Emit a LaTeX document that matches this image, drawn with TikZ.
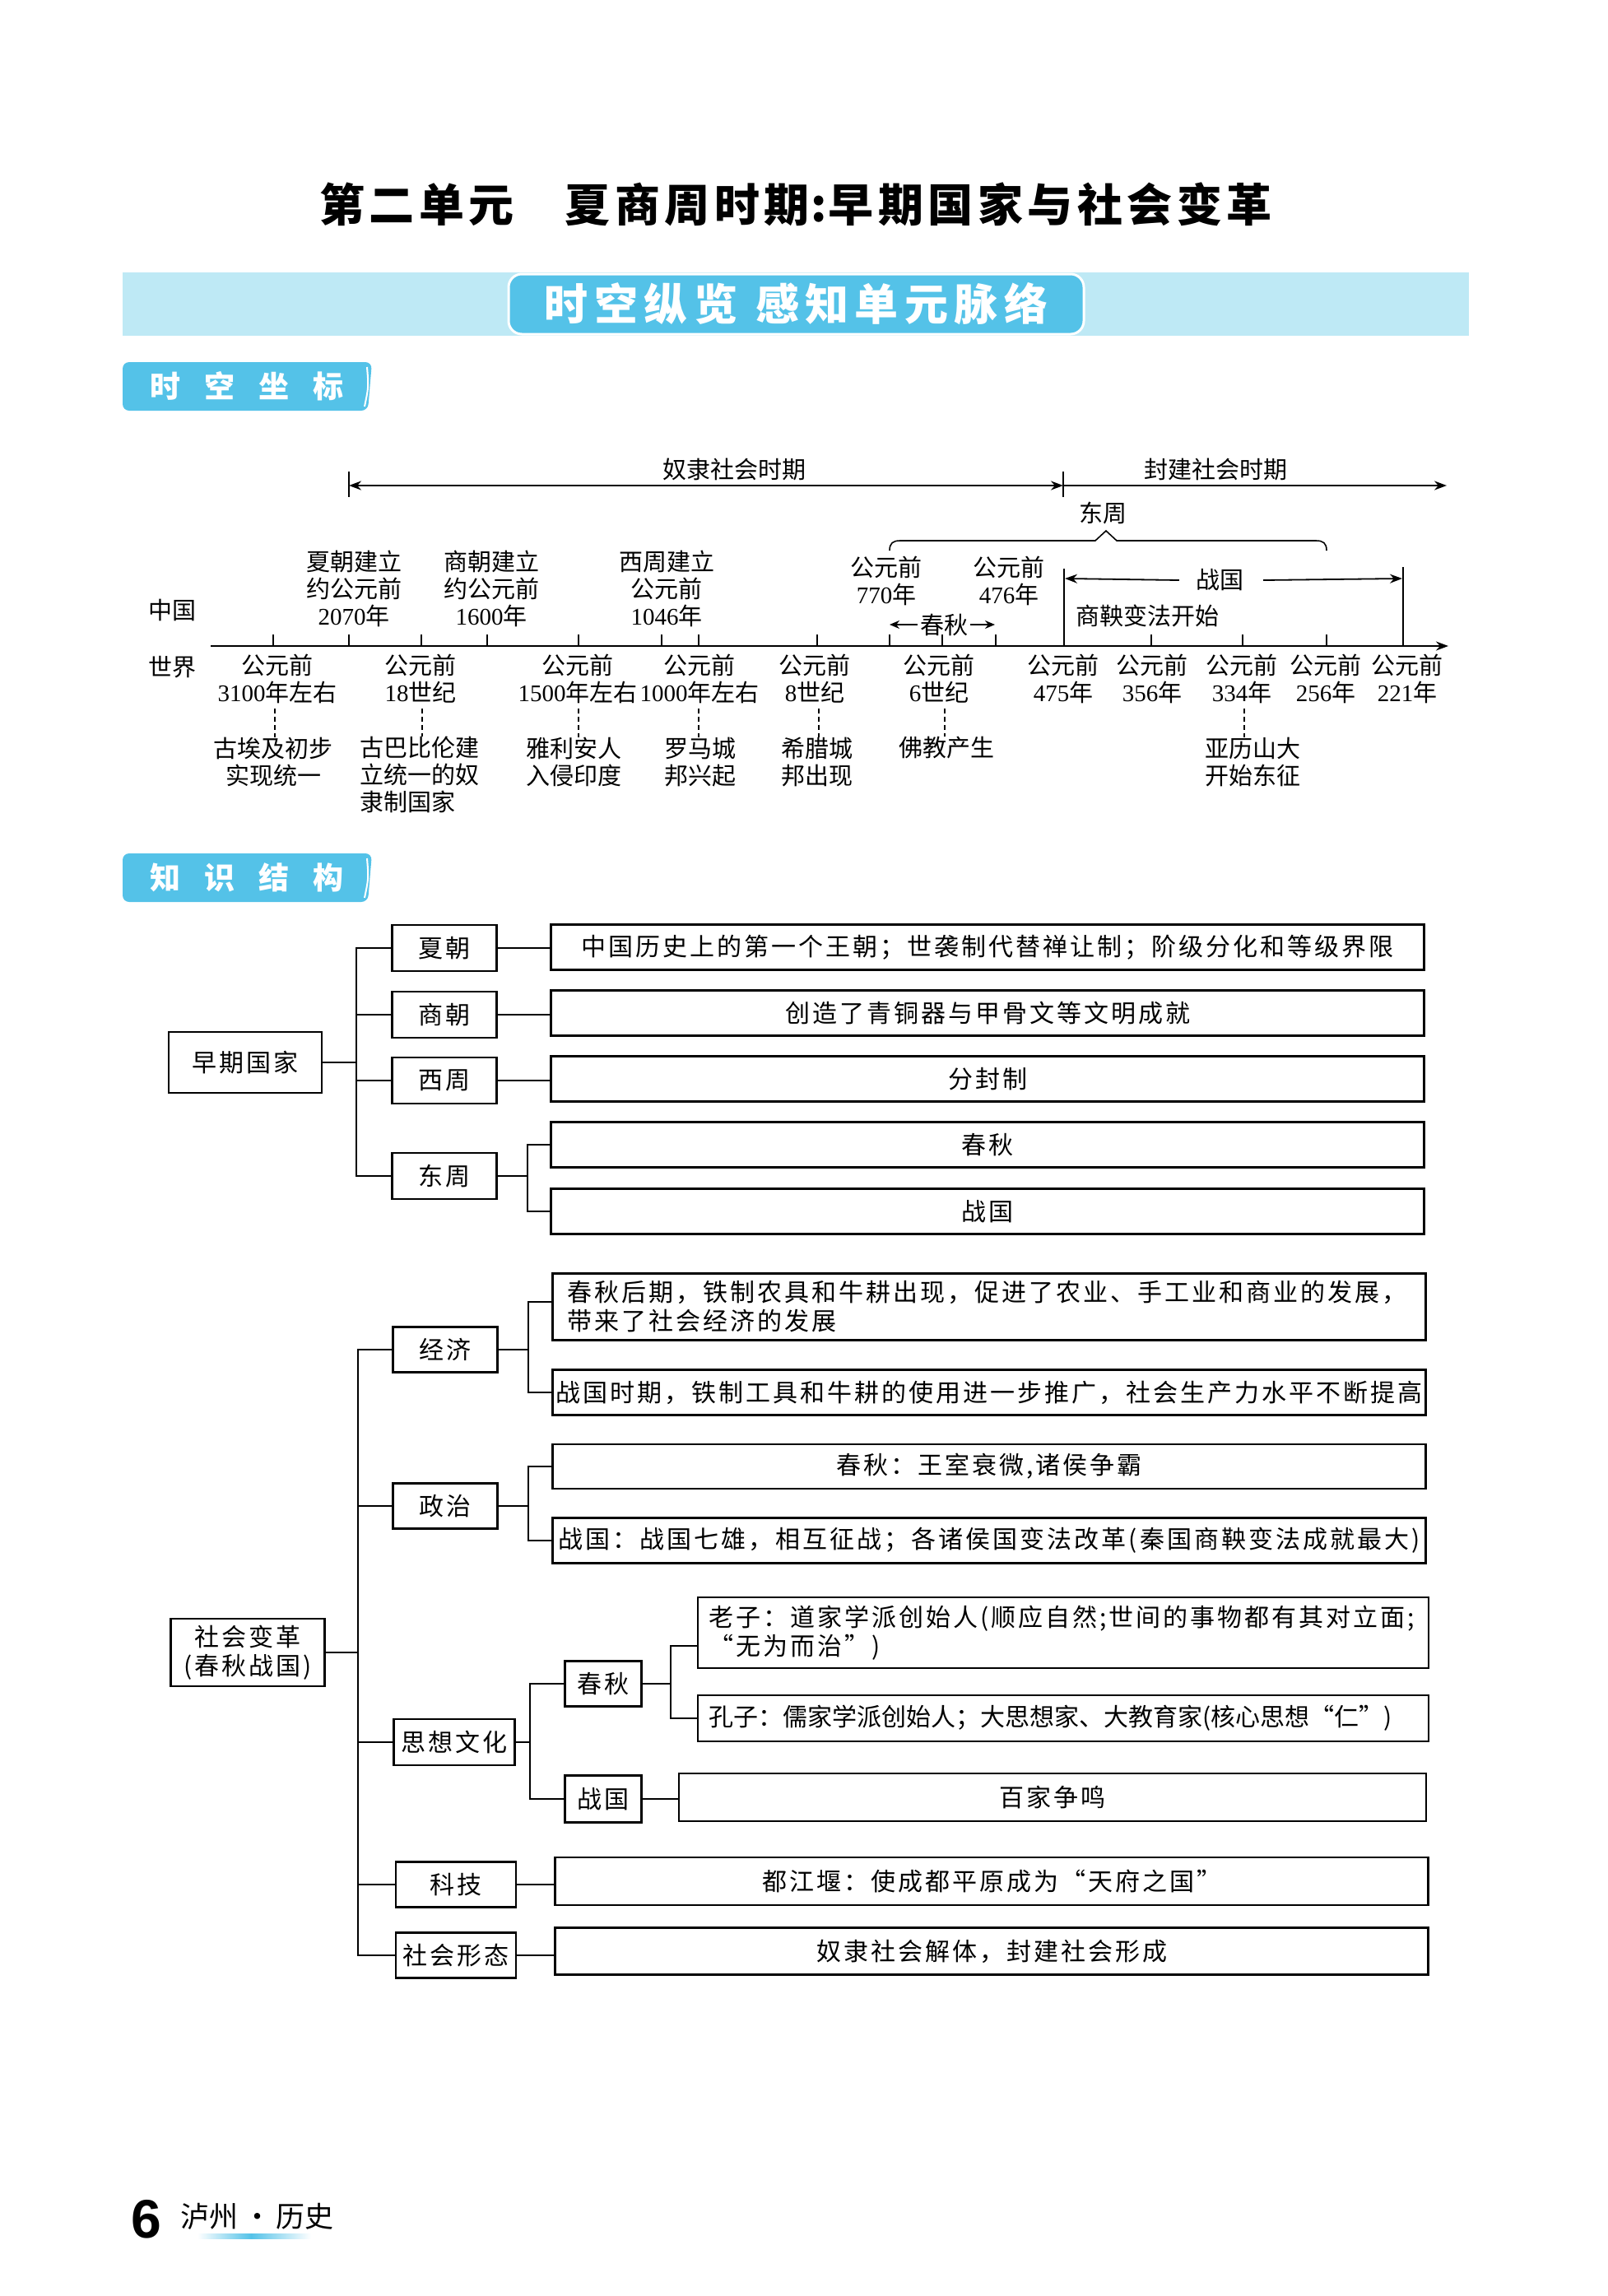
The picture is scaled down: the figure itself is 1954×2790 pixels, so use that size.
\documentclass[tikz,border=0pt]{standalone}
\usepackage{fontspec}
\setmainfont{Liberation Serif}
\newfontfamily\cjk{Noto Sans CJK SC}
\newfontfamily\cjkbox{Noto Sans CJK SC}[LetterSpace=10]
\newfontfamily\cjkhead{Noto Sans CJK SC}[LetterSpace=10]
\newfontfamily\cjkban{Noto Sans CJK SC}[LetterSpace=14]
\newfontfamily\sansfoot{Liberation Sans}
\usetikzlibrary{arrows.meta}
\newcommand{\yr}[1]{{\rmfamily #1}}
\definecolor{cyanMain}{RGB}{84,194,232}
\definecolor{cyanLight}{RGB}{190,233,245}
\begin{document}
\begin{tikzpicture}[x=1pt,y=-1pt,
  tl/.style={font=\cjk\fontsize{29}{33}\selectfont, align=center, inner sep=0pt},
  kb/.style={draw, line width=2.4pt, inner sep=0pt, font=\cjkbox\fontsize{30}{35}\selectfont, align=center},
  kbn/.style={kb, font=\cjk\fontsize{30}{35}\selectfont},
  ln/.style={line width=2.4pt},
  ax/.style={line width=2.2pt},
  tk/.style={line width=1.6pt},
  dsh/.style={line width=1.3pt, dash pattern=on 6pt off 4pt},
  arr/.style={-{Stealth[length=15pt,width=11pt]}},
  arrs/.style={line width=1.8pt,-{Stealth[length=12pt,width=10pt]}},
  sec/.style={font=\cjk\bfseries\fontsize{37}{37}\selectfont, text=white, inner sep=0pt}
]
\useasboundingbox (0,0) rectangle (1954,2790);
\fill[white] (0,0) rectangle (1954,2790);

% ---------- title ----------
\node[font=\cjkhead\bfseries\fontsize{55}{55}\selectfont, inner sep=0pt] (title) at (967,248)
  {第二单元\hspace{62pt}夏商周时期\hspace{2pt}:\hspace{2pt}早期国家与社会变革};

% ---------- banner ----------
\fill[cyanLight] (149,331) rectangle (1785,408);
\node[draw=white, line width=3pt, fill=cyanMain, rounded corners=16pt, minimum width=699pt,
      minimum height=73pt, inner sep=0pt, text=white,
      font=\cjkban\bfseries\fontsize{53}{53}\selectfont] (banner) at (967.5,369.5)
  {时空纵览\hspace{22pt}感知单元脉络};

% ---------- section label 1 ----------
\fill[cyanMain, rounded corners=8pt] (149,440) -- (452,440) -- (447,499) -- (149,499) -- cycle;
\draw[white, line width=2pt] (446,446) .. controls (448,470) .. (443,494);
\node[sec] (sec1) at (300,469) {时\hspace{29pt}空\hspace{29pt}坐\hspace{29pt}标};

% ---------- timeline ----------
\coordinate (sL) at (424,590);
\coordinate (sM) at (1292,590);
\coordinate (sR) at (1758,590);
\draw[ax, {Stealth[length=15pt,width=11pt]}-{Stealth[length=15pt,width=11pt]}] (sL) -- (sM);
\draw[ax, arr] (sM) -- (sR);
\draw[tk] (424,573) -- (424,604);
\draw[tk] (1292,573) -- (1292,604);
\node[tl] (nuli) at (892,570) {奴隶社会时期};
\node[tl] (fengjian) at (1477,570) {封建社会时期};

\node[tl] (dongzhouT) at (1340,623) {东周};
\draw[tk] (1081,669) .. controls (1081,660) and (1085,657) .. (1094,657) -- (1331,657)
  -- (1344,645) -- (1357,657) -- (1599,657) .. controls (1608,657) and (1612,660) .. (1612,669);

\node[tl] (zhongguo) at (209,741) {中国};
\node[tl] (shijie) at (209,811) {世界};

% axis
\coordinate (a0) at (256,785);
\coordinate (a1) at (1760,785);
\draw[ax, arr] (a0) -- (a1);
\foreach \x in {332,424,512,592,703,804,849,993,1081,1145,1210,1399,1510,1612}
  \draw[tk] (\x,771) -- (\x,785);
\draw[tk] (1293,691) -- (1293,785);
\draw[tk] (1705,689) -- (1705,785);

% warring states arrow
\node[tl] (zgT) at (1482,705) {战国};
\coordinate (zgA) at (1294,703);
\coordinate (zgB) at (1704,703);
\draw[line width=1.8pt, arr] ([xshift=-20pt]zgT.west) -- (zgA);
\draw[line width=1.8pt, arr] ([xshift=24pt]zgT.east) -- (zgB);
\node[tl, anchor=west] (shangyang) at (1307,748) {商鞅变法开始};

% spring & autumn arrow
\node[tl] (cqT) at (1147,759) {春秋};
\coordinate (cqA) at (1081,759);
\coordinate (cqB) at (1209,759);
\draw[arrs] ([xshift=-3pt]cqT.west) -- (cqA);
\draw[arrs] ([xshift=3pt]cqT.east) -- (cqB);

% China labels
\node[tl] (xiaT) at (430,715) {夏朝建立\\约公元前\\\yr{2070}年};
\node[tl] (shangT) at (597,715) {商朝建立\\约公元前\\\yr{1600}年};
\node[tl] (xizhouT) at (810,715) {西周建立\\公元前\\\yr{1046}年};
\node[tl] (y770) at (1077,706) {公元前\\\yr{770}年};
\node[tl] (y476) at (1226,706) {公元前\\\yr{476}年};

% world labels
\node[tl] (w1) at (337,825) {公元前\\\yr{3100}年左右};
\node[tl] (w2) at (511,825) {公元前\\\yr{18}世纪};
\node[tl] (w3) at (702,825) {公元前\\\yr{1500}年左右};
\node[tl] (w4) at (850,825) {公元前\\\yr{1000}年左右};
\node[tl] (w5) at (990,825) {公元前\\\yr{8}世纪};
\node[tl] (w6) at (1141,825) {公元前\\\yr{6}世纪};
\node[tl] (w7) at (1292,825) {公元前\\\yr{475}年};
\node[tl] (w8) at (1400,825) {公元前\\\yr{356}年};
\node[tl] (w9) at (1509,825) {公元前\\\yr{334}年};
\node[tl] (w10) at (1611,825) {公元前\\\yr{256}年};
\node[tl] (w11) at (1710,825) {公元前\\\yr{221}年};

% world events
\node[tl] (e1) at (332,926) {古埃及初步\\实现统一};
\node[tl, anchor=north west, align=left] (e2) at (437,895) {古巴比伦建\\立统一的奴\\隶制国家};
\node[tl] (e3) at (697,926) {雅利安人\\入侵印度};
\node[tl] (e4) at (851,926) {罗马城\\邦兴起};
\node[tl] (e5) at (993,926) {希腊城\\邦出现};
\node[tl] (e6) at (1150,909) {佛教产生};
\node[tl] (e7) at (1522,926) {亚历山大\\开始东征};

\coordinate (d1) at (334,0);
\coordinate (d2) at (513,0);
\coordinate (d3) at (703,0);
\coordinate (d4) at (849,0);
\coordinate (d5) at (995,0);
\coordinate (d6) at (1148,0);
\coordinate (d7) at (1512,0);
\draw[dsh] (d1 |- w1.south) ++(0,6) -- (d1 |- e1.north);
\draw[dsh] (d2 |- w2.south) ++(0,6) -- (d2 |- e2.north);
\draw[dsh] (d3 |- w3.south) ++(0,6) -- (d3 |- e3.north);
\draw[dsh] (d4 |- w4.south) ++(0,6) -- (d4 |- e4.north);
\draw[dsh] (d5 |- w5.south) ++(0,6) -- (d5 |- e5.north);
\draw[dsh] (d6 |- w6.south) ++(0,6) -- (d6 |- e6.north);
\draw[dsh] (d7 |- w9.south) ++(0,6) -- (d7 |- e7.north);

% ---------- section label 2 ----------
\fill[cyanMain, rounded corners=8pt] (149,1037) -- (452,1037) -- (447,1096) -- (149,1096) -- cycle;
\draw[white, line width=2pt] (446,1043) .. controls (448,1067) .. (443,1091);
\node[sec] (sec2) at (300,1066) {知\hspace{29pt}识\hspace{29pt}结\hspace{29pt}构};

% ---------- tree 1 ----------
\node[kb, minimum width=186pt, minimum height=74pt] (root1) at (298,1291) {早期国家};
\node[kb, minimum width=127pt, minimum height=56pt] (xia) at (540,1152) {夏朝};
\node[kb, minimum width=127pt, minimum height=56pt] (shang) at (540,1233) {商朝};
\node[kb, minimum width=127pt, minimum height=56pt] (xizhou) at (540,1313) {西周};
\node[kb, minimum width=127pt, minimum height=56pt] (dongzhou) at (540,1429) {东周};
\node[kb, minimum width=1061pt, minimum height=55pt] (c1) at (1200,1151) {中国历史上的第一个王朝；世袭制代替禅让制；阶级分化和等级界限};
\node[kb, minimum width=1061pt, minimum height=55pt] (c2) at (1200,1231) {创造了青铜器与甲骨文等文明成就};
\node[kb, minimum width=1061pt, minimum height=55pt] (c3) at (1200,1311) {分封制};
\node[kb, minimum width=1061pt, minimum height=55pt] (c4) at (1200,1391) {春秋};
\node[kb, minimum width=1061pt, minimum height=55pt] (c5) at (1200,1472) {战国};

\coordinate (tr1) at (433,0);
\coordinate (sb1) at (641,0);
\draw[ln] (root1.east) -- (root1.east -| tr1);
\draw[ln] (xia.west) -- (xia.west -| tr1) -- (dongzhou.west -| tr1) -- (dongzhou.west);
\draw[ln] (shang.west) -- (shang.west -| tr1);
\draw[ln] (xizhou.west) -- (xizhou.west -| tr1);
\draw[ln] (xia.east) -- (c1.west |- xia.east);
\draw[ln] (shang.east) -- (c2.west |- shang.east);
\draw[ln] (xizhou.east) -- (c3.west |- xizhou.east);
\draw[ln] (dongzhou.east) -- (dongzhou.east -| sb1);
\draw[ln] (c4.west) -- (c4.west -| sb1) -- (c5.west -| sb1) -- (c5.west);

% ---------- tree 2 ----------
\node[kb, minimum width=187pt, minimum height=82pt] (root2) at (301,2008) {社会变革\\(春秋战国)};
\node[kb, minimum width=127pt, minimum height=55pt] (jj) at (541,1640) {经济};
\node[kb, minimum width=127pt, minimum height=55pt] (zz) at (541,1830) {政治};
\node[kb, minimum width=147pt, minimum height=56pt] (sx) at (552,2117) {思想文化};
\node[kb, minimum width=146pt, minimum height=55pt] (kj) at (554,2290) {科技};
\node[kb, minimum width=146pt, minimum height=55pt] (sh) at (554,2376) {社会形态};

\node[kb, minimum width=1061pt, minimum height=81pt, text width=1025pt, align=left] (j1) at (1202,1588)
  {春秋后期，铁制农具和牛耕出现，促进了农业、手工业和商业的发展，\\带来了社会经济的发展};
\node[kb, minimum width=1061pt, minimum height=55pt] (j2) at (1202,1692) {战国时期，铁制工具和牛耕的使用进一步推广，社会生产力水平不断提高};
\node[kb, minimum width=1061pt, minimum height=54pt] (p1) at (1202,1782) {春秋：王室衰微,诸侯争霸};
\node[kb, minimum width=1061pt, minimum height=55pt] (p2) at (1202,1872) {战国：战国七雄，相互征战；各诸侯国变法改革(秦国商鞅变法成就最大)};

\node[kb, minimum width=93pt, minimum height=55pt] (cq) at (733,2046) {春秋};
\node[kb, minimum width=93pt, minimum height=57pt] (zg) at (733,2186) {战国};
\node[kb, minimum width=888pt, minimum height=86pt, text width=862pt, align=left] (l1) at (1292,1984)
  {老子：道家学派创始人(顺应自然;世间的事物都有其对立面;\\“无为而治”)};
\node[kbn, minimum width=888pt, minimum height=56pt, text width=862pt, align=left] (l2) at (1292,2088)
  {孔子：儒家学派创始人；大思想家、大教育家(核心思想“仁”)};
\node[kb, minimum width=908pt, minimum height=58pt] (bj) at (1279,2184) {百家争鸣};
\node[kb, minimum width=1061pt, minimum height=58pt] (k1) at (1205,2286) {都江堰：使成都平原成为“天府之国”};
\node[kb, minimum width=1061pt, minimum height=57pt] (s1) at (1205,2371) {奴隶社会解体，封建社会形成};

\coordinate (tr2) at (435,0);
\coordinate (sb2) at (642,0);
\coordinate (sb3) at (644,0);
\coordinate (sb4) at (815,0);
\draw[ln] (root2.east) -- (root2.east -| tr2);
\draw[ln] (jj.west) -- (jj.west -| tr2) -- (sh.west -| tr2) -- (sh.west);
\draw[ln] (zz.west) -- (zz.west -| tr2);
\draw[ln] (sx.west) -- (sx.west -| tr2);
\draw[ln] (kj.west) -- (kj.west -| tr2);
\draw[ln] (jj.east) -- (jj.east -| sb2);
\draw[ln] ([yshift=6pt]j1.west) -- ([yshift=6pt]j1.west -| sb2) -- (j2.west -| sb2) -- (j2.west);
\draw[ln] (zz.east) -- (zz.east -| sb2);
\draw[ln] (p1.west) -- (p1.west -| sb2) -- (p2.west -| sb2) -- (p2.west);
\draw[ln] (sx.east) -- (sx.east -| sb3);
\draw[ln] (cq.west) -- (cq.west -| sb3) -- (zg.west -| sb3) -- (zg.west);
\draw[ln] (cq.east) -- (cq.east -| sb4);
\draw[ln] ([yshift=-16pt]l1.west) -- ([yshift=-16pt]l1.west -| sb4) -- (l2.west -| sb4) -- (l2.west);
\draw[ln] (zg.east) -- (bj.west |- zg.east);
\draw[ln] (kj.east) -- (k1.west |- kj.east);
\draw[ln] (sh.east) -- (s1.west |- sh.east);

% ---------- footer ----------
\node[font=\sansfoot\bfseries\fontsize{66}{66}\selectfont, inner sep=0pt] (pageno) at (178,2697) {6};
\node[font=\cjk\fontsize{35}{35}\selectfont, inner sep=0pt, anchor=west] (foot) at (219,2693) {泸州\,·\,历史};
\shade[left color=white, right color=cyanMain] (240,2714) rectangle (305,2720);
\shade[left color=cyanMain, right color=white] (305,2714) rectangle (378,2720);
\end{tikzpicture}
\end{document}
